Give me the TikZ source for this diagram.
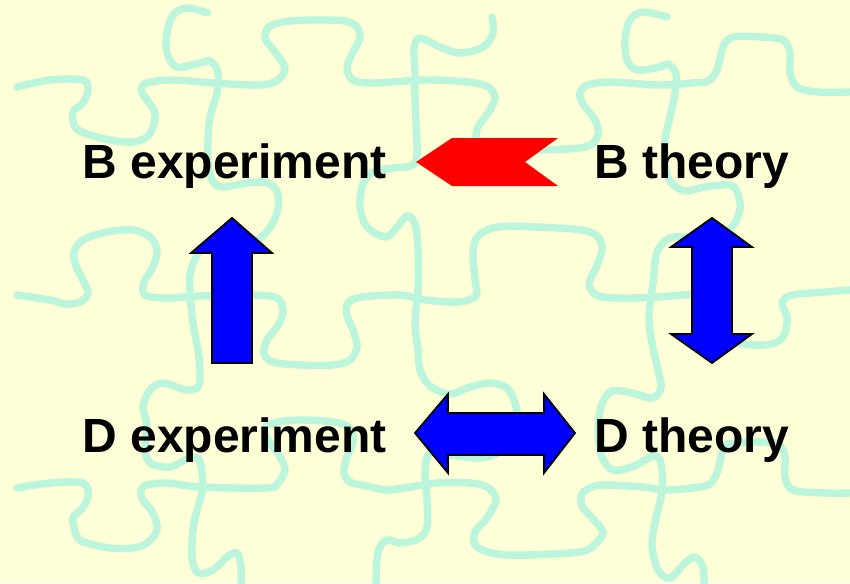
\documentclass[tikz,border=0pt]{standalone}
\usepackage{fontspec}
\setmainfont{Liberation Sans}
\definecolor{bgyellow}{RGB}{255,255,215}
\definecolor{puzzle}{RGB}{186,245,220}
\definecolor{arrowblue}{RGB}{0,0,255}
\definecolor{arrowred}{RGB}{255,0,0}
\begin{document}
\begin{tikzpicture}[x=0.5pt,y=-0.5pt,
  pz/.style={draw=puzzle,line width=3.7pt,line cap=round,line join=round},
  lbl/.style={anchor=base west,inner sep=0pt,font=\fontsize{24}{28}\selectfont\bfseries},
  bluearrow/.style={fill=arrowblue,draw=black,line width=0.9pt,line join=miter},
  redarrow/.style={fill=arrowred,draw=none}]
\fill[bgyellow] (0,0) rectangle (850,583);
\useasboundingbox (0,0) rectangle (850,583);
% puzzle rows
\draw[pz] plot[smooth,tension=0.55] coordinates {(17,87) (50,80) (83,80) (88,90) (83,103) (73,112) (75,127) (87,134) (110,140) (133,142) (147,137) (153,127) (155,113) (147,100) (141,90) (147,83) (173,80) (213,83) (260,85) (278,80) (285,68) (275,52) (265,38) (270,26) (290,21) (320,20) (345,21) (357,27) (360,38) (353,52) (347,68) (353,80) (373,83) (425,80) (468,82) (488,87) (495,98) (488,113) (478,127) (477,140) (492,150) (535,150) (585,147) (598,135) (595,120) (583,104) (580,93) (588,85) (612,82) (658,85) (692,83) (708,81) (717,70) (723,47) (733,37) (760,37) (783,40) (790,53) (790,72) (797,87) (818,92) (850,92)};
\draw[pz] plot[smooth,tension=0.55] coordinates {(17,295) (50,300) (65,304) (80,302) (88,293) (83,280) (76,266) (74,252) (83,240) (107,232) (133,230) (150,237) (157,250) (153,267) (144,282) (145,295) (167,298) (200,296) (253,295) (277,298) (283,310) (279,324) (267,340) (264,353) (273,362) (300,365) (333,365) (350,360) (357,347) (353,330) (347,316) (348,303) (362,297) (400,295) (425,300) (458,302) (476,296) (475,280) (473,253) (478,236) (498,227) (535,227) (582,230) (598,237) (602,250) (596,268) (589,284) (598,296) (625,298) (658,297) (692,295) (706,302) (714,322) (724,339) (752,345) (775,343) (785,333) (787,317) (782,303) (792,295) (825,292) (850,290)};
\draw[pz] plot[smooth,tension=0.55] coordinates {(17,488) (50,483) (83,483) (88,497) (81,510) (73,518) (77,537) (87,543) (110,548) (133,548) (147,543) (157,530) (153,513) (143,500) (141,490) (147,485) (167,483) (200,487) (267,488) (278,483) (285,470) (280,457) (270,443) (264,430) (273,423) (300,420) (333,422) (350,428) (353,442) (347,457) (344,472) (350,482) (367,486) (387,490) (410,487) (437,483) (470,483) (487,487) (496,499) (487,518) (475,532) (477,547) (507,555) (579,552) (596,543) (603,532) (593,519) (582,506) (582,494) (592,487) (608,485) (642,487) (665,490) (692,488) (710,484) (718,470) (722,453) (728,444) (758,442) (778,444) (785,457) (785,477) (793,490) (825,493) (850,493)};
% puzzle columns
\draw[pz] plot[smooth,tension=0.55] coordinates {(208,13) (187,8) (173,15) (167,33) (167,53) (177,67) (200,63) (210,61) (218,72) (217,93) (210,117) (208,140) (208,162) (212,180) (222,187) (247,183) (268,183) (278,194) (277,213) (268,230) (255,241) (228,244) (204,245) (191,270) (190,292) (193,323) (199,357) (199,385) (187,390) (163,383) (150,390) (143,407) (147,425) (145,448) (150,463) (170,467) (187,459) (198,458) (202,472) (202,492) (194,523) (192,557) (198,573) (213,570) (227,557) (237,553) (241,567) (241,585)};
\draw[pz] plot[smooth,tension=0.55] coordinates {(492,17) (493,33) (483,47) (460,53) (440,47) (420,38) (414,48) (415,70) (415,100) (417,155) (410,166) (393,168) (373,172) (363,184) (360,207) (367,227) (386,237) (397,227) (407,216) (415,224) (418,250) (418,290) (415,323) (418,350) (420,370) (430,386) (450,394) (470,387) (490,383) (507,388) (515,403) (517,420) (512,440) (500,452) (480,458) (450,455) (430,453) (425,472) (427,500) (427,527) (418,539) (400,543) (387,540) (378,552) (376,585)};
\draw[pz] plot[smooth,tension=0.55] coordinates {(667,17) (643,12) (630,20) (625,40) (627,60) (637,70) (660,67) (668,64) (676,74) (675,93) (670,117) (665,140) (665,165) (670,181) (684,191) (705,187) (730,185) (738,194) (740,210) (732,227) (716,234) (690,237) (670,238) (657,252) (653,283) (649,317) (652,343) (658,370) (661,388) (652,398) (632,393) (612,391) (602,404) (598,430) (602,457) (613,470) (632,467) (651,457) (659,458) (662,472) (662,492) (655,523) (652,545) (658,570) (670,578) (685,563) (695,557) (703,567) (704,585)};
% labels
\node[lbl] (bexp) at (82,178) {B experiment};
\node[lbl] (bthe) at (594,178) {B theory};
\node[lbl] (dexp) at (82,452) {D experiment};
\node[lbl] (dthe) at (594,452) {D theory};
% arrows
\path[redarrow] (416,162) -- (452,138) -- (558,138) -- (525,162) -- (558,186) -- (452,186) -- cycle;
\draw[bluearrow] (232,218) -- (272,253) -- (252,253) -- (252,363) -- (212,363) -- (212,253) -- (191,253) -- cycle;
\draw[bluearrow] (712,218) -- (752,247) -- (732,247) -- (732,334) -- (752,334) -- (712,363) -- (671,334) -- (692,334) -- (692,247) -- (671,247) -- cycle;
\draw[bluearrow] (415,433) -- (448,394) -- (448,413) -- (544,413) -- (544,394) -- (575,433) -- (544,473) -- (544,455) -- (448,455) -- (448,473) -- cycle;
\end{tikzpicture}
\end{document}
